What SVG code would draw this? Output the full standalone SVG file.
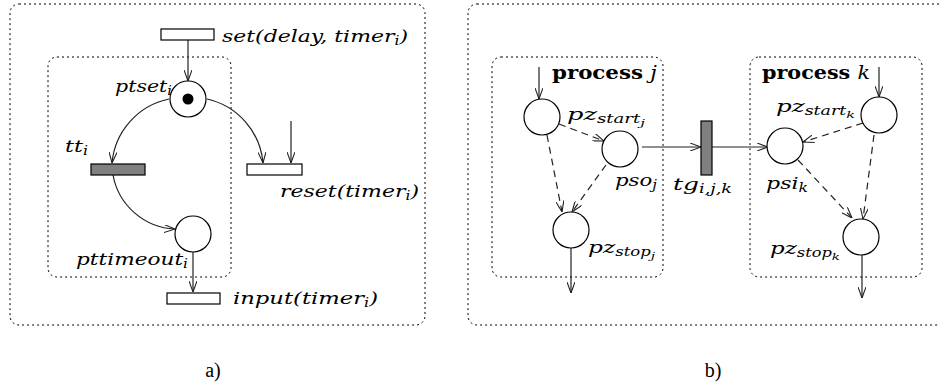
<svg xmlns="http://www.w3.org/2000/svg" width="939" height="388" viewBox="0 0 939 388">
  <style>
    .box { fill: none; stroke: #000; stroke-width: 1; stroke-dasharray: 2 3; }
    .place { fill: #fff; stroke: #000; stroke-width: 1.2; }
    .trans { fill: #fff; stroke: #000; stroke-width: 1.2; }
    .trans-g { fill: #808080; stroke: #000; stroke-width: 1.2; }
    .arc { fill: none; stroke: #222; stroke-width: 1.2; marker-end: url(#arrow); }
    .dash { stroke-dasharray: 7 5; }
    .lbl { font-family: "DejaVu Serif", "Liberation Serif", serif; font-style: italic; font-size: 17px; fill: #000; }
    .bold { font-family: "DejaVu Serif", "Liberation Serif", serif; font-weight: bold; font-size: 18px; fill: #000; }
    .cap { font-family: "Liberation Serif", "DejaVu Serif", serif; font-size: 20px; fill: #000; }
    .sub { font-size: 12px; }
    .sub2 { font-size: 10px; }
  </style>
  <defs>
    <marker id="arrow" viewBox="0 0 11 8" refX="11" refY="4" markerWidth="11" markerHeight="8" markerUnits="userSpaceOnUse" orient="auto">
      <path d="M0,0 L11,4 L0,8" fill="none" stroke="#222" stroke-width="1.1"/>
    </marker>
  </defs>

  <!-- panel a: timer net -->
  <g id="frame-a">
    <rect class="box" x="10" y="4" width="415" height="321" rx="9"/>
    <rect class="box" x="48" y="57" width="183" height="220" rx="9"/>
  </g>

  <g id="connectors">
    <!-- a -->
    <line class="arc" x1="188" y1="40" x2="188" y2="81"/>
    <path class="arc" d="M169,99 A72,72 0 0 0 112,163"/>
    <path class="arc" d="M207,99 A72,72 0 0 1 263,163"/>
    <line class="arc" x1="291" y1="121" x2="291" y2="163"/>
    <path class="arc" d="M113,175 A66,66 0 0 0 175,229"/>
    <line class="arc" x1="193" y1="252" x2="193" y2="292"/>
    <!-- b -->
    <line class="arc" x1="539" y1="67" x2="539" y2="99"/>
    <line class="arc dash" x1="559" y1="124" x2="604" y2="141"/>
    <line class="arc dash" x1="547" y1="135" x2="562" y2="212"/>
    <line class="arc dash" x1="606" y1="165" x2="572" y2="212"/>
    <line class="arc" x1="571" y1="248" x2="571" y2="293"/>
    <line class="arc" x1="642" y1="147" x2="701" y2="147"/>
    <line class="arc" x1="712" y1="147" x2="768" y2="147"/>
    <line class="arc" x1="879" y1="67" x2="879" y2="97"/>
    <line class="arc dash" x1="863" y1="123" x2="803" y2="142"/>
    <line class="arc dash" x1="798" y1="160" x2="852" y2="218"/>
    <line class="arc dash" x1="874" y1="135" x2="863" y2="219"/>
    <line class="arc" x1="862" y1="255" x2="862" y2="298"/>
  </g>

  <g id="set">
    <rect class="trans" x="161" y="29" width="53" height="11"/>
    <text class="lbl" x="222" y="42" textLength="186" lengthAdjust="spacingAndGlyphs">set(delay, timer<tspan class="sub" dy="3">i</tspan><tspan dy="-3">)</tspan></text>
  </g>
  <g id="ptset">
    <circle class="place" cx="188" cy="99" r="18"/>
    <circle cx="188" cy="99" r="5.5" fill="#000"/>
    <text class="lbl" x="115" y="92" textLength="57" lengthAdjust="spacingAndGlyphs">ptset<tspan class="sub" dy="3">i</tspan></text>
  </g>
  <g id="tt">
    <rect class="trans-g" x="91" y="164" width="54" height="11"/>
    <text class="lbl" x="65" y="152" textLength="23" lengthAdjust="spacingAndGlyphs">tt<tspan class="sub" dy="3">i</tspan></text>
  </g>
  <g id="reset">
    <rect class="trans" x="247" y="164" width="55" height="11"/>
    <text class="lbl" x="280" y="197" textLength="139" lengthAdjust="spacingAndGlyphs">reset(timer<tspan class="sub" dy="3">i</tspan><tspan dy="-3">)</tspan></text>
  </g>
  <g id="pttimeout">
    <circle class="place" cx="193" cy="234" r="18"/>
    <text class="lbl" x="76" y="265" textLength="112" lengthAdjust="spacingAndGlyphs">pttimeout<tspan class="sub" dy="3">i</tspan></text>
  </g>
  <g id="input">
    <rect class="trans" x="167" y="293" width="53" height="11"/>
    <text class="lbl" x="233" y="304" textLength="145" lengthAdjust="spacingAndGlyphs">input(timer<tspan class="sub" dy="3">i</tspan><tspan dy="-3">)</tspan></text>
  </g>
  <text class="cap" x="213" y="377" text-anchor="middle">a)</text>

  <!-- panel b: inter-process gate -->
  <g id="frame-b">
    <rect class="box" x="468" y="4" width="480" height="321" rx="9"/>
  </g>
  <g id="process-j">
    <rect class="box" x="492" y="57" width="171" height="220" rx="9"/>
    <text class="bold" x="552" y="79" textLength="105" lengthAdjust="spacingAndGlyphs">process <tspan font-style="italic" font-weight="normal">j</tspan></text>
  </g>
  <g id="pz-start-j">
    <circle class="place" cx="542" cy="117" r="18"/>
    <text class="lbl" x="567" y="120" textLength="78" lengthAdjust="spacingAndGlyphs">pz<tspan class="sub" dy="3">start</tspan><tspan class="sub2" dy="3">j</tspan></text>
  </g>
  <g id="pso-j">
    <circle class="place" cx="620" cy="149" r="18"/>
    <text class="lbl" x="615" y="186" textLength="42" lengthAdjust="spacingAndGlyphs">pso<tspan class="sub" dy="3">j</tspan></text>
  </g>
  <g id="pz-stop-j">
    <circle class="place" cx="571" cy="230" r="18"/>
    <text class="lbl" x="588" y="253" textLength="67" lengthAdjust="spacingAndGlyphs">pz<tspan class="sub" dy="3">stop</tspan><tspan class="sub2" dy="3">j</tspan></text>
  </g>
  <g id="tg">
    <rect class="trans-g" x="701" y="121" width="11" height="54"/>
    <text class="lbl" x="673" y="190" textLength="59" lengthAdjust="spacingAndGlyphs">tg<tspan class="sub" dy="3">i,j,k</tspan></text>
  </g>
  <g id="process-k">
    <rect class="box" x="750" y="57" width="172" height="220" rx="9"/>
    <text class="bold" x="762" y="79" textLength="108" lengthAdjust="spacingAndGlyphs">process <tspan font-style="italic" font-weight="normal">k</tspan></text>
  </g>
  <g id="pz-start-k">
    <circle class="place" cx="879" cy="115" r="18"/>
    <text class="lbl" x="776" y="112" textLength="79" lengthAdjust="spacingAndGlyphs">pz<tspan class="sub" dy="3">start</tspan><tspan class="sub2" dy="3">k</tspan></text>
  </g>
  <g id="psi-k">
    <circle class="place" cx="785" cy="146" r="18"/>
    <text class="lbl" x="766" y="189" textLength="42" lengthAdjust="spacingAndGlyphs">psi<tspan class="sub" dy="3">k</tspan></text>
  </g>
  <g id="pz-stop-k">
    <circle class="place" cx="861" cy="237" r="18"/>
    <text class="lbl" x="770" y="254" textLength="70" lengthAdjust="spacingAndGlyphs">pz<tspan class="sub" dy="3">stop</tspan><tspan class="sub2" dy="3">k</tspan></text>
  </g>
  <text class="cap" x="713" y="377" text-anchor="middle">b)</text>
</svg>
